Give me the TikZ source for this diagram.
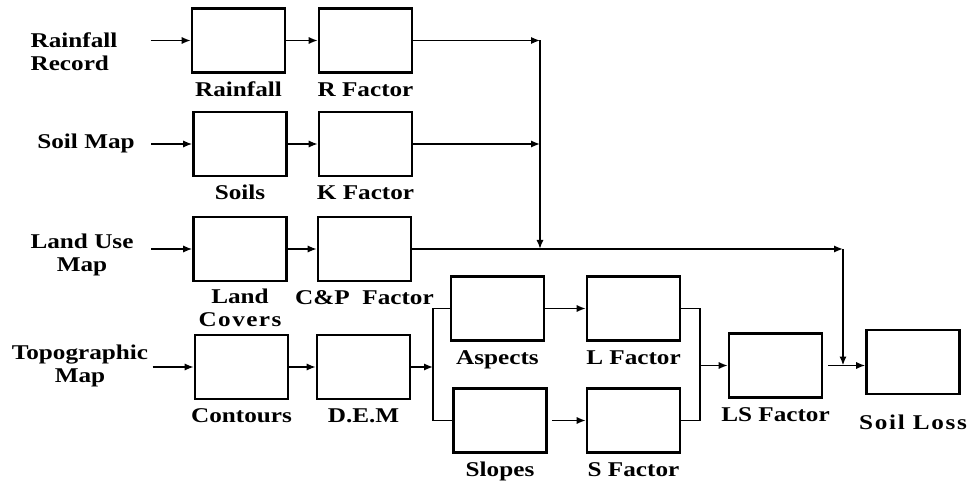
\documentclass[tikz,border=0pt]{standalone}
\usepackage{fontspec}
\setmainfont{Liberation Serif}[FakeStretch=1.2]
\usetikzlibrary{arrows.meta}
\tikzset{
  box/.style={draw,line width=1.3pt,minimum width=46.5pt,minimum height=32pt,inner sep=0pt},
  txt/.style={font=\fontsize{10.5}{11.5}\selectfont\bfseries,align=center,inner sep=0pt},
  lbl/.style={txt,text height=7pt,text depth=1.5pt},
  conn/.style={line width=0.75pt,-{Latex[length=4.5pt,width=3.6pt]}},
  wire/.style={line width=0.75pt},
  under/.style={label={[lbl,label distance=4pt]below:{#1}}},
}
\begin{document}
\begin{tikzpicture}[x=0.5pt,y=-0.5pt]
  \useasboundingbox (0,0) rectangle (976,481);
  % inputs
  \node[txt,align=left] (rec) at (74,52) {Rainfall\\Record};
  \node[txt] (smap) at (86,143) {Soil Map};
  \node[txt] (lmap) at (82,255) {Land Use\\Map};
  \node[txt] (tmap) at (80,366) {Topographic\\Map};
  % boxes
  \node[box,under=Rainfall] (rain) at (238.5,40.5) {};
  \node[box,under=R Factor] (rfac) at (365.5,40.5) {};
  \node[box,under=Soils] (soils) at (240,144) {};
  \node[box,under=K Factor] (kfac) at (365.5,144) {};
  \node[box,label={[txt,label distance=3pt]below:{Land\\{\addfontfeature{LetterSpace=7}Covers}}}] (land) at (240,249) {};
  \node[box,under={C\&P~~Factor}] (cpfac) at (364.5,249) {};
  \node[box,under=Contours] (cont) at (241.5,367) {};
  \node[box,under=D.E.M] (dem) at (363.5,367) {};
  \node[box,under=Aspects] (asp) at (497.5,308.5) {};
  \node[box,under=Slopes] (slop) at (500,420.5) {};
  \node[box,under=L Factor] (lfac) at (633.5,308.5) {};
  \node[box,under=S Factor] (sfac) at (633.5,420.5) {};
  \node[box,under=LS Factor] (ls) at (775.5,365.5) {};
  \node[box,label={[lbl,label distance=10pt]below:{\addfontfeature{LetterSpace=8}Soil Loss}}] (loss) at (913,362) {};
  \coordinate (tj) at (540,249);
  \coordinate (cj) at (843,249);
  \coordinate (lj) at (433,367);
  \coordinate (rj) at (700,365.5);
  % connectors
  \draw[conn] ([xshift=-20pt]rain.west) -- (rain.west);
  \draw[conn] ([xshift=-20.5pt]soils.west) -- (soils.west);
  \draw[conn] ([xshift=-20.5pt]land.west) -- (land.west);
  \draw[conn] ([xshift=-20.5pt]cont.west) -- (cont.west);
  \draw[conn] (rain.east) -- (rfac.west);
  \draw[conn] (soils.east) -- (kfac.west);
  \draw[conn] (land.east) -- (cpfac.west);
  \draw[conn] (cont.east) -- (dem.west);
  \draw[conn] (rfac.east) -- (rfac.east -| tj);
  \draw[conn] (kfac.east) -- (kfac.east -| tj);
  \draw[conn,line width=1pt] (rfac.east -| tj) -- (tj);
  \draw[conn] (cpfac.east) -- (cj);
  \draw[conn,line width=1pt] (cj) -- (cj |- ls.east);
  \draw[conn] (dem.east) -- (lj);
  \draw[wire] (asp.west) -| (lj) |- (slop.west);
  \draw[conn] (asp.east) -- (lfac.west);
  \draw[conn] ([xshift=2pt]slop.east) -- (sfac.west);
  \draw[wire] (lfac.east) -| (rj) |- (sfac.east);
  \draw[conn] (rj) -- (ls.west);
  \draw[conn] ([xshift=2.5pt]ls.east) -- (ls.east -| loss.west);
\end{tikzpicture}
\end{document}
